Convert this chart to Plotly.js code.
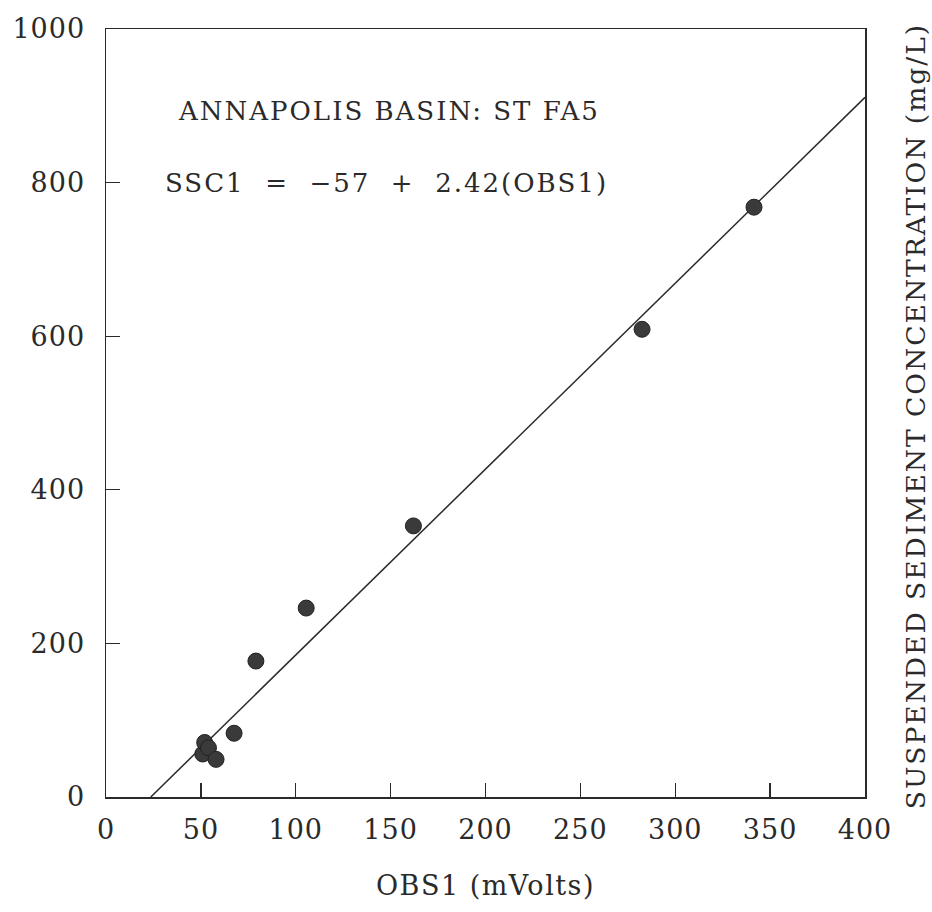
<!DOCTYPE html>
<html>
<head>
<meta charset="utf-8">
<script src="https://cdn.plot.ly/plotly-3.0.1.min.js"></script>
<style>
html,body{margin:0;padding:0;background:#fff;}
#chart{width:932px;height:912px;}
#chart .annotation-text{letter-spacing:2px;}
#chart .xtick text,#chart .ytick text{letter-spacing:1px;}
#chart .g-xtitle text{letter-spacing:1.5px;}
</style>
</head>
<body>
<div id="chart"></div>
<script>
// Observed data (OBS1 in mVolts, SSC1 in mg/L)
const obsX = [51, 52, 54, 58, 67.5, 79, 105.5, 162, 282.5, 341.5];
const sscY = [56, 71, 64, 49, 83, 177, 246, 353, 609, 768];
// Regression line SSC1 = -57 + 2.42(OBS1), endpoints
const fitX = [23.6, 400];
const fitY = [0, 911];
const xTicks = [0, 50, 100, 150, 200, 250, 300, 350, 400];
const yTicks = [0, 200, 400, 600, 800, 1000];
const titleText = "ANNAPOLIS BASIN: ST FA5";
const eqText = "SSC1 \u00a0=\u00a0 \u221257 \u00a0+\u00a0 2.42(OBS1)";
const xTitle = "OBS1 (mVolts)";
const yTitle = "SUSPENDED SEDIMENT CONCENTRATION (mg/L)";

const font = "DejaVu Serif, Liberation Serif, serif";
const ink = "#2a2a2a";

const traces = [
  {x: fitX, y: fitY, mode: "lines", line: {color: ink, width: 1.5}, hoverinfo: "skip"},
  {x: obsX, y: sscY, mode: "markers", marker: {color: "#3a3a3a", size: 16, line: {color: "#222", width: 1}}}
];

const axisCommon = {
  showgrid: false, zeroline: false, showline: true, linecolor: ink, linewidth: 1.5,
  mirror: true, ticks: "inside", ticklen: 14, tickwidth: 1.3, tickcolor: ink,
  tickfont: {family: font, size: 27, color: ink}
};

const layout = {
  width: 932, height: 912,
  margin: {l: 106, r: 67, t: 29, b: 115},
  paper_bgcolor: "#fff", plot_bgcolor: "#fff",
  showlegend: false,
  xaxis: Object.assign({}, axisCommon, {
    range: [0, 400], tickmode: "array", tickvals: xTicks, ticktext: xTicks.map(String),
    ticklabelstandoff: 8,
    title: {text: xTitle, font: {family: font, size: 27, color: ink}, standoff: 32}
  }),
  yaxis: Object.assign({}, axisCommon, {
    range: [0, 1000], tickmode: "array", tickvals: yTicks, ticktext: yTicks.map(String),
    ticklabelstandoff: 14
  }),
  annotations: [
    {text: titleText, xref: "x", yref: "y", x: 49, y: 893, xanchor: "left", yanchor: "middle",
     showarrow: false, font: {family: font, size: 26, color: ink}},
    {text: eqText, xref: "x", yref: "y", x: 44.5, y: 800, xanchor: "left", yanchor: "middle",
     showarrow: false, font: {family: font, size: 26, color: ink}},
    {text: yTitle, xref: "paper", yref: "paper", x: 1.066, y: 0.496, xanchor: "center", yanchor: "middle",
     textangle: -90, showarrow: false, font: {family: font, size: 26.5, color: ink}}
  ]
};

Plotly.newPlot("chart", traces, layout, {displayModeBar: false, staticPlot: true});
</script>
</body>
</html>
